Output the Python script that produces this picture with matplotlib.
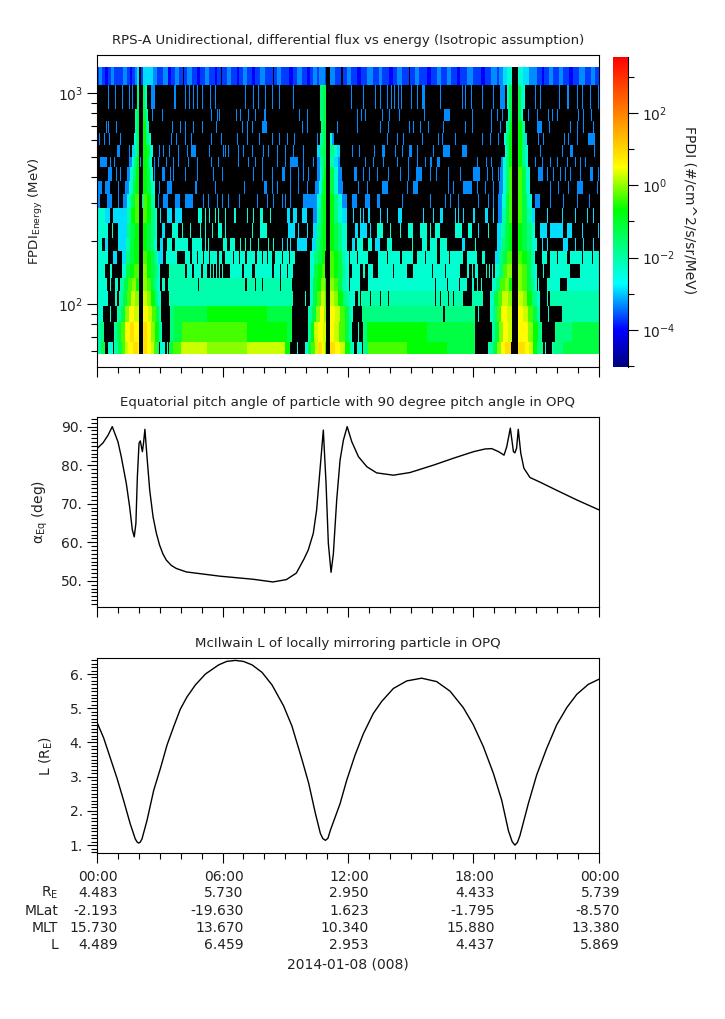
import matplotlib
matplotlib.use('Agg')
import matplotlib.pyplot as plt
import numpy as np
from matplotlib.colors import LinearSegmentedColormap, LogNorm
from matplotlib.ticker import FixedLocator, FixedFormatter, LogLocator, NullFormatter, MultipleLocator

# energy bin edges (MeV) of the FPDI channels
energy_edges = [58, 66, 82, 98, 115, 133, 155, 178, 205, 242, 285, 332, 383,
                446, 498, 567, 647, 736, 840, 1091, 1327]

# flux steps, log10 value of each letter ('.' = no counts, drawn black)
flux_steps = {'a': -4.0, 'b': -3.7, 'c': -3.3, 'd': -2.9, 'e': -2.35, 'f': -2.05,
              'g': -1.7, 'h': -1.2, 'i': -0.7, 'j': -0.35, 'k': -0.05, 'l': 0.25,
              'm': 0.55, 'n': 0.9, 'o': 1.3, '.': np.nan}

# one string per channel, lowest energy first: "from-to letter" in samples (502 a day)
row_058 = ("0-4f 4-8h 11-16e 17-21f 21-25h 25-28j 28-31l 31-36m 36-41n 41-42m 46-50n 50-54m 54-57l 57-60j 60-62g "
           "63-68e 70e 72-76h 76-84j 84-110l 110-150k 150-188l 188-193i 200e "
           "208-211e 211-214h 214-218j 218-221l 221-225n 225-228m 228-229j 233-238n 238-243m 243-248l 248-253i 253-256f "
           "256e 260-265e 266-271g 271-310j 310-350i 350-378h "
           "391-396f 396-400h 400-404k 404-408m 408-414n 421-428n 428-432m 432-436l 436-440i 440-446g 448e 455e 456-466g 466-502h")
row_066 = ("0-4f 4-7g 17-20f 20-24h 24-28j 28-33m 33-37n 37-42m 46-50n 50-54m 54-58k 58-62i 62-65f "
           "73-77g 77-85h 85-150j 150-190i 190-195h "
           "211-214f 214-217i 217-221l 221-226m 226-229l 233-237m 237-242l 242-248j 248-252h 252-255f "
           "261e 266-270g 270-330i 330-378h "
           "395-398f 398-402h 402-406k 406-411m 411-415l 421-426m 426-431m 431-436k 436-441i 441-445g 458-475g 475-502h")
row_082 = ("0-6e 13e 20-24f 24-28h 28-32k 32-37m 37-42l 46-51m 51-55l 55-59j 59-62h 62-64f "
           "73-77g 77-110h 110-170i 170-195h "
           "211-215f 215-219h 219-223k 223-227m 227-229k 233-238m 238-243l 243-248j 248-252h 252-254f "
           "254-256e 265-346g 348-378g 381e "
           "393-396e 396-400g 400-404j 404-410m 410-415l 421-426m 426-431l 431-436j 436-440h 440-443f 451e 465-502f")
row_098 = ("0-11e 18-20e 22-26f 26-30h 30-34j 34-38l 38-42k 46-50l 50-54k 54-58i 58-61g 61-64e "
           "72-76f 76-196f 208e "
           "213-216e 216-220h 220-224j 224-228l 228-229j 233-237l 237-241k 241-246i 246-250g 250-253f "
           "253-258e 261-386f 263. 273. 283. 291. 338. 343. 351. 356. 366-375. "
           "393-397e 397-401h 401-405j 405-411l 411-415k 421-426l 426-430k 430-435i 435-440g 440-443e 450e 453-502f")
row_115 = ("0-10e 13e 18-21e 23-27f 27-31h 31-35j 35-39k 39-42i 46-50k 50-54j 54-57h 57-60g 60-63e "
           "65-68e 71-196f 101. 148-150. 158. 165. 183. 195. "
           "213-216e 216-220h 220-224i 224-228k 228-229i 233-237k 237-241j 241-245h 245-249f 249-252e "
           "253-263e 271-370e 338. 350. 362. 375-377e 380e 384e "
           "395-399e 399-403g 403-408j 408-412k 412-415i 421-425k 425-430j 430-434h 434-437g 437-440e 441e 450-463e 470-502e")
row_133 = ("0-8e 13-15e 25-29e 29-33h 33-37i 37-42j 46-50k 50-54i 54-58h 58-61g 61-63e "
           "72-88f 90-95e 97-104e 106-110e 113e 116e 119e 122e 125e 133-145e 147-155e 158-175e 177-196e 183. 190. "
           "213-217e 217-221h 221-225i 225-228j 233-237j 237-241i 241-245h 245-248g 248-252e "
           "255-263e 266-268e 271-276e 281-310e 316-363e 296. 335. 348. 370-372e 375e 378-381e 389e 392e 395e "
           "398-402e 402-406g 406-410j 410-415k 421-425k 425-430j 430-434h 434-437f 437-440e 446e 453-473e 483-502e")
row_155 = ("0-11e 16-20d 25-29d 29-33g 33-37h 37-42i 46-50j 50-54i 54-57h 57-60g 60-61e "
           "61-66d 69-80e 88-93e 95-120e 122-125e 128-148e 150-158e 160-175e 178-198e 100. 106. 112. 136. 142. 165. 170. 185. 192. "
           "213-217e 217-221g 221-225h 225-228i 233-237j 237-241i 241-245h 245-248f 248-252e "
           "253-271e 281-303e 305-316e 320-340e 343-366e 370-380e 385-388e 260. 290. 328. 352. "
           "398-402d 402-406g 406-410h 410-415j 421-425j 425-430i 430-434h 434-437f 437-438e 445-450e 453-470e 473-502e 460. 485. 495.")
row_178 = ("0-5e 8-11d 21-26d 25-29d 29-33f 33-37h 37-42i 46-50i 50-54h 54-57g 57-60e "
           "63-66d 70-75e 78-91e 95-105e 108e 111e 126-130e 133-138e 143e 148e 153e 161e 171e 176e 185d 190d 193d 200-210d "
           "215-219d 219-223g 223-226h 226-229i 233-237i 237-241h 241-245g 245-250e "
           "255-258d 260-266e 271-275e 278-283d 290-295e 315e 325-330e 333-340e 343-350e 365-368d 378e "
           "400-404d 404-408g 408-412h 412-415i 421-425i 425-430h 430-435g 435-440e 445d 450d 466-471d 478d 486d 496d")
row_205 = ("0-11e 15-16e 21-26d 26-30d 30-34g 34-38h 38-42i 46-50i 50-54h 54-58g 58-60e "
           "65-68d 75-81e 85e 93e 103e 108e 115e 121-125e 128e 155e 163-170e 191-198d 201d 210d "
           "216-220d 220-224g 224-226h 226-229i 233-237i 237-241h 241-245g 245-250e "
           "258-261d 263-270d 273d 280-286e 293e 303e 311-316e 323-330e 333e 338-343e 358-365e 371-375e 381d 391e "
           "400-404d 404-408f 408-412h 412-415i 421-425i 425-430h 430-435g 435-438e 443-450d 453-466d 470-475d 485d 501d")
row_242 = ("0-8e 8-13d 16-26d 26-30d 30-34f 34-38i 38-42j 46-50j 50-54i 54-58g 58-60e "
           "63d 70-75d 78-85d 101-105e 108e 112e 118e 121e 128e 137-139e 150e 156e 163-166e 173e 190-193d 196-200d 205-210d "
           "216-220c 220-224f 224-226h 226-229i 233-237i 237-241g 241-245e 245-250d "
           "256d 263d 266d 271-273d 283d 290d 301-305d 326d 336d 343-346d 358d 361d 366d 376-378d 388-391d 396d "
           "401-405c 405-409f 409-412h 412-415j 421-425j 425-430h 430-435f 435-438d 450d 465d 478d 490d 496d")
row_285 = ("0-3c 10-15c 21c 26-30c 30-34e 34-38h 38-42j 45-46d 46-50j 50-54i 54-58f "
           "61c 66-71c 78-83c 88-96c 106c 111c 120c 125c 131c 142c 160c 170c 176c 185c 188c 193c 206-216c "
           "216-220c 220-224e 224-226h 226-229i 233-237i 237-241g 241-245e 245-250c "
           "255-260c 268-273c 280-283c 305c 333c 348c 353c 361c 381c 391c 396c "
           "401-405c 405-409e 409-412h 412-415j 421-425j 425-430h 430-435e 438-443c 453c 466c 480c 492c")
row_332 = ("0-5c 8-13c 21c 28-32c 32-36e 36-39h 39-42i 46-50i 50-54h 54-58e "
           "62c 70-75c 98-100c 118c 147c 167-170c 175c 180c 193c 201c 210c "
           "218-222c 222-225e 225-227h 227-229i 233-237h 237-241e 241-246c "
           "261c 270c 285-291c 310c 316-321c 351c 356c 366-375c 380c 388c 396c "
           "402-406c 406-409e 409-412g 412-415j 421-425j 425-429h 429-433e 453c 461c 471c 480-486c 500c")
row_383 = ("11-15c 19c 23c 30-33c 33-36e 36-39g 39-42i 46-50i 50-53h 53-56e 57c "
           "65-68c 73c 76c 88c 100c 116c 125c 156c 165c 175c 185-188c 193c 201c 206c 211c 220c "
           "220-223c 223-225e 225-227g 227-229i 233-237h 237-241e 241-245c "
           "257-260c 266c 272c 280c 291c 303c 311c 319-325c 333c 339c 351c 363c 376-383c 390c 395c 401c "
           "403-406c 406-409e 409-412g 412-415j 421-425j 425-429h 429-433e 441-446c 450c 456c 463c 468c 473c 483c 493-496c 501c")
row_446 = ("3-10c 13c 17c 32-35c 35-37e 37-40g 40-42i 43c 46-50i 50-52h 52-55e 57c "
           "61c 69c 76c 81c 91c 100-101c 114c 121c 141c 151c 158c 165c 180c 188c 193-201c 206c 216c 220c "
           "220-223c 223-226f 226-229h 233-237f 237-241d 241-243c "
           "268c 276c 286c 300c 311c 320c 328c 333-335c 340-343c 380c 389c 394c "
           "404-406c 406-409e 409-412g 412-415i 421-425i 425-428g 428-431e 438c 445c 453c 460c 470c 478c 483c 488c")
row_498 = ("20-23c 32c 35-38d 38-40f 40-42h 46-50i 50-53h 53-56e "
           "62c 66c 72c 81c 90c 94-99c 112c 126c 128c 131c 141c 146c 155c 166c 171c 180c 188c 196c 206c "
           "220-223d 223-226g 226-229h 233-237g 237-240e 240-243d "
           "255c 262c 277c 285-288c 298c 305c 312-315c 320c 336c 346-353c 365-370c "
           "408-410e 410-412g 412-415i 421-425i 425-428g 428-431e 443c 465c 473-476c 497c")
row_567 = ("2c 7c 12c 23c 37-39e 39-41g 41-42h 46-49i 49-52g 52-54e "
           "74c 79-80c 88c 94c 114c 124c 140-141c 150c 162c 175c 182c 190c 197c 220c "
           "223-225f 225-227g 227-229h 233-235e 235-237c "
           "290c 300c 306c 325c 341c 345c 358c 385c 393c 401c "
           "407-409e 409-412g 412-415i 421-425i 425-428g 428-430d 441c 446c 467c 471c 480c 491-498c")
row_647 = ("9c 11c 19c 38-40f 40-42h 46-49i 49-52f "
           "75c 83c 88c 96c 105c 119c 145c 150c 155c 165-170c 205c 210c 240c "
           "224-226g 226-229h "
           "260c 283c 291c 312c 316c 323c 331c 346c 368c 375c 394c 403c "
           "409-411f 411-413g 413-415i 421-425i 425-428f 440-445c 452c 473c 480c 486c 496c")
row_736 = ("55c 65c 114c 120c 122c 139c 143c 151c 158c 167-169c 202c 210c "
           "38-40f 40-42h 46-49h 49-51f 223-226g 226-229h "
           "260c 264c 268c 285c 292c 302c 327c 347-353c 375c 394c 400c 405c "
           "411-413f 413-415h 421-424h 424-426e 431c 440c 451c 455c 460c 481c 486c 494c")
row_840 = ("11c 18c 25c 32c 35c 40-42g 46-48h 48-50e 54-58c 77-79c 88c 92c 96c 100c 105c 113c 118c "
           "148c 156c 161c 168c 175c 182c 196c 223-226g 226-229h "
           "254c 266c 278c 283c 290c 294c 297c 301c 304c 314c 320c 325-328c 343c 365c 368c 374c 385c 396c 403-408c "
           "410-412e 412-415h 421-424h 424-428e 438c 443c 462c 470-472c 480c 485c 493c 501c")
row_1091 = ("0-502b 2-5c 8-11a 14-17c 20-23b 26-30c 33-35a 38-40c 40-42d 42-44. 44-46b 46-56d 56-60c 60-66b 66-71c 71-74a "
            "78-82c 86. 90-95c 100-103a 108-112c 118-120a 124. 130-134c 140-142a 146-150c 155-158a 163-168c 176. 180-184c "
            "192-196a 200-205c 210-213a 216-220c 222-228c 229-233. 233-238c 244-246. 250-254c 260-264a 270-276c 282-285c "
            "292-296a 300-305c 312. 318-322c 330-334a 340-344c 350-354c 360-363a 370-376c 384-388a 394-400c 402-406c "
            "406-410d 410-415e 415-421. 421-426e 426-432d 432-440c 445-447a 452-456c 462-466c 472-476a 482-488c 494-498c")

energy_rows = [row_058, row_066, row_082, row_098, row_115, row_133, row_155, row_178, row_205, row_242,
               row_285, row_332, row_383, row_446, row_498, row_567, row_647, row_736, row_840, row_1091]

# colour bar stops: (log10 flux, colour)
bar_flux = [-5.03, -4.0, -2.73, -0.66, 0.5, 3.55]
bar_colors = ['#000080', '#0000ff', '#00ffff', '#00ff00', '#ffff00', '#ff0000']

# equatorial pitch angle trace
pitch_hours = [0, 0.29, 0.53, 0.73, 1.0, 1.16, 1.4, 1.56, 1.69, 1.78, 1.86, 1.93, 2.01, 2.07, 2.17, 2.23, 2.29, 2.39,
               2.52, 2.68, 2.84, 2.99, 3.15, 3.31, 3.55, 3.79, 4.27, 5.87, 7.46, 8.41, 9.05, 9.53, 9.71, 9.9, 10.1, 10.34, 10.5, 10.66, 10.82,
               10.95, 11.06, 11.19, 11.3, 11.46, 11.62, 11.78, 11.96, 12.18, 12.5, 12.9, 13.37, 14.17, 14.97, 16.08,
               17.04, 18.0, 18.55, 18.87, 19.2, 19.46, 19.59, 19.76, 19.91, 19.98, 20.06, 20.14, 20.26, 20.41, 20.7,
               21.18, 21.97, 22.93, 24]
pitch_deg = [84.3, 85.8, 87.8, 90, 86.1, 82.2, 75.3, 69.2, 63.2, 61.4, 64.9, 77, 85.7, 86.3, 83.5, 86, 89.3, 82.2,
             73.5, 66.6, 62.3, 59.3, 57, 55.4, 54, 53.2, 52.3, 51.2, 50.4, 49.7, 50.3, 52, 53.8, 55.7, 58, 62.3, 68.4, 78.7, 89.1,
             75.3, 59.7, 52.2, 57, 71, 81.3, 86.5, 90, 86.1, 82.2, 79.6, 78, 77.4, 78.1, 80,
             81.8, 83.5, 84.2, 84.3, 83.5, 82.6, 84.8, 89.6, 83.5, 83.2, 84.4, 89.3, 83.1, 79.2, 76.8,
             75.6, 73.5, 71, 68.4]

# McIlwain L trace
lshell_hours = [0, 0.32, 0.64, 0.96, 1.27, 1.59, 1.83, 1.92, 1.99, 2.07, 2.15, 2.39, 2.71, 3.03, 3.35, 3.67, 3.98, 4.30,
                4.70, 5.18, 5.82, 6.2, 6.61, 7.0, 7.41, 7.89, 8.37, 8.92, 9.32, 9.80, 10.12, 10.44, 10.68, 10.80, 10.92, 11.04, 11.16,
                11.62, 11.94, 12.33, 12.73, 13.21, 13.61, 14.17, 14.81, 15.52, 16.24, 16.88, 17.51, 17.99, 18.47, 18.95,
                19.35, 19.67, 19.85, 19.98, 20.10, 20.22, 20.62, 21.02, 21.50, 21.98, 22.46, 22.94, 23.49, 24]
lshell_val = [4.59, 4.13, 3.54, 2.95, 2.31, 1.62, 1.18, 1.09, 1.06, 1.09, 1.18, 1.72, 2.60, 3.24, 3.93, 4.47, 4.97, 5.33,
              5.68, 6.00, 6.27, 6.37, 6.40, 6.37, 6.27, 6.05, 5.68, 5.07, 4.48, 3.50, 2.81, 1.93, 1.34, 1.19, 1.14, 1.20, 1.44,
              2.21, 2.90, 3.62, 4.25, 4.85, 5.20, 5.58, 5.80, 5.88, 5.78, 5.50, 5.02, 4.52, 3.88, 3.10,
              2.31, 1.42, 1.10, 1.00, 1.08, 1.28, 2.21, 3.05, 3.83, 4.52, 5.02, 5.41, 5.70, 5.85]

# ephemeris table under the last panel
tick_hours = [0, 6, 12, 18, 24]
time_labels = ['00:00', '06:00', '12:00', '18:00', '00:00']
eph_names = ['R$_E$', 'MLat', 'MLT', 'L']
eph_re = ['4.483', '5.730', '2.950', '4.433', '5.739']
eph_mlat = ['-2.193', '-19.630', '1.623', '-1.795', '-8.570']
eph_mlt = ['15.730', '13.670', '10.340', '15.880', '13.380']
eph_l = ['4.489', '6.459', '2.953', '4.437', '5.869']

W, H = 725, 1019
FS = 10
plt.rcParams['mathtext.default'] = 'regular'
plt.rcParams['font.family'] = 'DejaVu Sans'
plt.rcParams['font.size'] = FS
plt.rcParams['axes.linewidth'] = 0.8
TC = '#222222'


def box(x0, y0, x1, y1):
    # pixel box (from top left) to figure fractions
    return [x0 / W, 1 - y1 / H, (x1 - x0) / W, (y1 - y0) / H]


def time_axis(ax):
    ax.set_xlim(0, 24)
    ax.xaxis.set_major_locator(MultipleLocator(6))
    ax.xaxis.set_minor_locator(MultipleLocator(1))
    ax.tick_params(axis='x', which='major', length=7.2, width=0.8, labelbottom=False)
    ax.tick_params(axis='x', which='minor', length=4, width=0.8)
    ax.tick_params(axis='y', which='major', length=7.2, width=0.8, labelsize=FS, labelcolor=TC, pad=3)
    ax.tick_params(axis='y', which='minor', length=4, width=0.8)


def parse_row(text, n=502):
    row = np.full(n, np.nan)
    for tok in text.split():
        span = tok[:-1].split('-')
        a = int(span[0])
        b = int(span[1]) if len(span) > 1 else a + 1
        row[a:b] = flux_steps[tok[-1]]
    return row


fig = plt.figure(figsize=(W / 100, H / 100), dpi=100)

# spectrogram
ax1 = fig.add_axes(box(97, 55, 599, 367))
flux = 10.0 ** np.array([parse_row(r) for r in energy_rows])
pos = [(v - bar_flux[0]) / (bar_flux[-1] - bar_flux[0]) for v in bar_flux]
cmap = LinearSegmentedColormap.from_list('fpdi', list(zip(pos, bar_colors)), N=512)
cmap.set_bad('black')
norm = LogNorm(10 ** bar_flux[0], 10 ** bar_flux[-1])
hours_edges = np.linspace(0, 24, 503)
mesh = ax1.pcolormesh(hours_edges, energy_edges, np.ma.masked_invalid(flux), cmap=cmap, norm=norm, shading='flat')
ax1.set_yscale('log')
ax1.set_ylim(50.3, 1514)
time_axis(ax1)
ax1.yaxis.set_major_locator(FixedLocator([100, 1000]))
ax1.yaxis.set_major_formatter(FixedFormatter(['$10^{2}$', '$10^{3}$']))
ax1.yaxis.set_minor_locator(LogLocator(10, subs=np.arange(2, 10), numticks=12))
ax1.yaxis.set_minor_formatter(NullFormatter())
ax1.set_title('RPS-A Unidirectional, differential flux vs energy (Isotropic assumption)', fontsize=9.6, color=TC, pad=8)
ax1.set_ylabel('FPDI$_{Energy}$ (MeV)', fontsize=9.6, color=TC)
ax1.yaxis.set_label_coords((45 - 97) / 502, 0.5)

# colour bar
cax = fig.add_axes(box(613, 57, 628, 367))
cb = fig.colorbar(mesh, cax=cax)
cb.outline.set_visible(False)
cax.spines['right'].set_visible(True)
cax.spines['right'].set_linewidth(0.8)
cax.set_yscale('log')
cax.yaxis.set_major_locator(FixedLocator([1e-4, 1e-2, 1, 100]))
cax.yaxis.set_major_formatter(FixedFormatter(['$10^{-4}$', '$10^{-2}$', '$10^{0}$', '$10^{2}$']))
cax.yaxis.set_minor_locator(FixedLocator([1e-5, 1e-3, 1e-1, 10, 1000]))
cax.yaxis.set_minor_formatter(NullFormatter())
cax.tick_params(axis='y', which='major', length=7.2, width=0.8, labelsize=FS, labelcolor=TC, pad=3)
cax.tick_params(axis='y', which='minor', length=4, width=0.8)
fig.text(689 / W, 1 - 210 / H, 'FPDI (#/cm^2/s/sr/MeV)', rotation=270, ha='center', va='center', fontsize=FS, color=TC)

# pitch angle
ax2 = fig.add_axes(box(97, 417, 599, 607))
ax2.plot(pitch_hours, pitch_deg, color='black', lw=1.0)
ax2.set_ylim(43.2, 92.5)
time_axis(ax2)
ax2.yaxis.set_major_locator(MultipleLocator(10))
ax2.yaxis.set_minor_locator(MultipleLocator(1))
ax2.yaxis.set_major_formatter(lambda v, p: f'{v:.0f}.')
ax2.set_title('Equatorial pitch angle of particle with 90 degree pitch angle in OPQ', fontsize=9.6, color=TC, pad=8)
ax2.set_ylabel(r'$\alpha_{Eq}$ (deg)', fontsize=10, color=TC)
ax2.yaxis.set_label_coords((50 - 97) / 502, 0.5)

# L shell
ax3 = fig.add_axes(box(97, 658, 599, 853))
ax3.plot(lshell_hours, lshell_val, color='black', lw=1.0)
ax3.set_ylim(0.77, 6.47)
time_axis(ax3)
ax3.yaxis.set_major_locator(MultipleLocator(1))
ax3.yaxis.set_minor_locator(MultipleLocator(0.1))
ax3.yaxis.set_major_formatter(lambda v, p: f'{v:.0f}.')
ax3.set_title('McIlwain L of locally mirroring particle in OPQ', fontsize=9.6, color=TC, pad=8)
ax3.set_ylabel('L (R$_E$)', fontsize=10, color=TC)
ax3.yaxis.set_label_coords((55 - 97) / 502, 0.5)

# ephemeris text below the time axis
rows_y = [877, 893, 911, 928, 945]
columns = [time_labels, eph_re, eph_mlat, eph_mlt, eph_l]
for y, col in zip(rows_y, columns):
    for h, s in zip(tick_hours, col):
        fig.text((97 + h / 24 * 502 + 21) / W, 1 - y / H, s, ha='right', va='center', fontsize=FS, color=TC)
for y, s in zip(rows_y[1:], eph_names):
    fig.text(58 / W, 1 - y / H, s, ha='right', va='center', fontsize=FS, color=TC)
fig.text(348 / W, 1 - 965 / H, '2014-01-08 (008)', ha='center', va='center', fontsize=FS, color=TC)

fig.savefig('out.png', dpi=100)
